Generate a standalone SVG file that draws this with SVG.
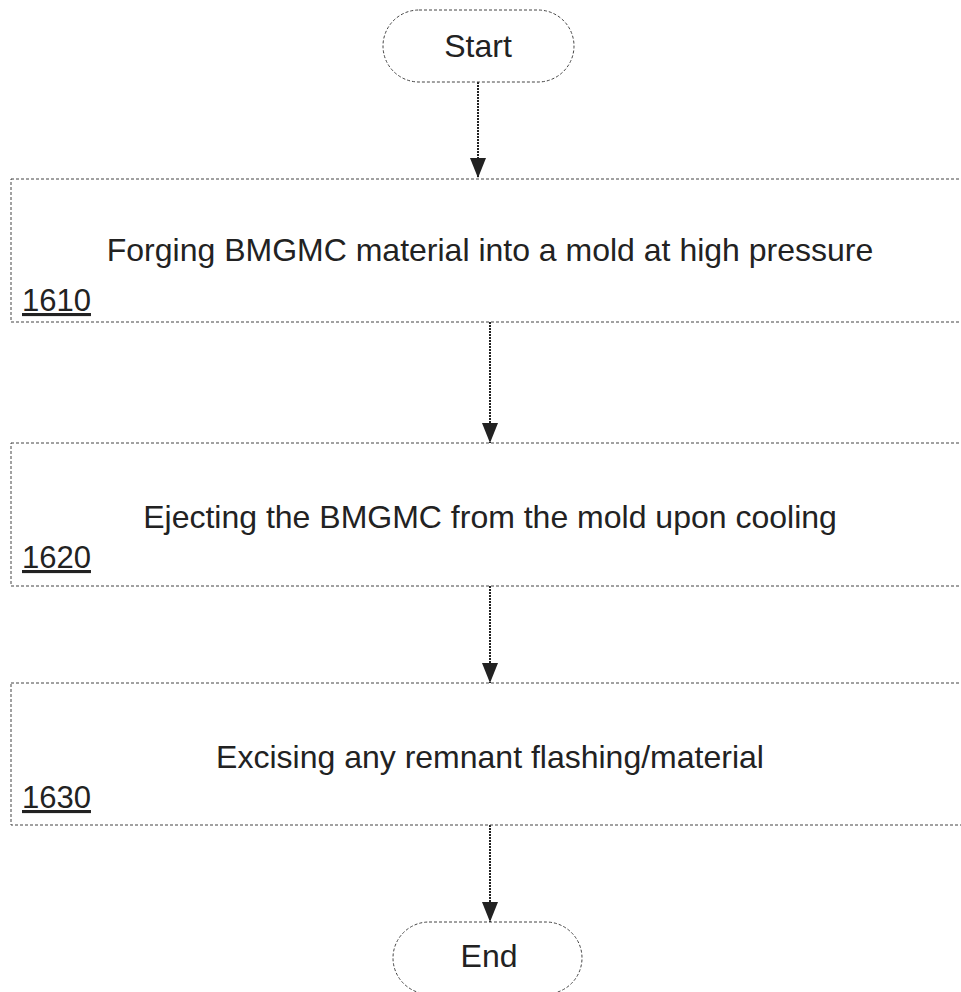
<svg xmlns="http://www.w3.org/2000/svg" width="961" height="992" viewBox="0 0 961 992">
<style>
.shape{fill:#fff;stroke:#444;stroke-width:1;stroke-dasharray:3 2}
.conn{stroke:#222;stroke-width:2;stroke-dasharray:2 1;fill:none}
.t{font-family:"Liberation Sans",Arial,sans-serif;font-size:32px;fill:#222;text-anchor:middle}
.n{font-family:"Liberation Sans",Arial,sans-serif;font-size:31px;fill:#222;text-decoration:underline}
</style>
<defs>
<marker id="ah" markerWidth="20" markerHeight="16" refX="20" refY="8" orient="auto" markerUnits="userSpaceOnUse" viewBox="0 0 20 16">
<path d="M0,0 L20,8 L0,16 Z" fill="#222"/>
</marker>
</defs>
<rect width="961" height="992" fill="#fff"/>
<g id="connectors">
<line class="conn" x1="478" y1="82" x2="478" y2="178" marker-end="url(#ah)"/>
<line class="conn" x1="490" y1="322" x2="490" y2="443" marker-end="url(#ah)"/>
<line class="conn" x1="490" y1="586" x2="490" y2="683" marker-end="url(#ah)"/>
<line class="conn" x1="490" y1="825" x2="490" y2="922" marker-end="url(#ah)"/>
</g>
<g id="start">
<rect class="shape" x="383" y="10" width="191" height="72" rx="36" ry="36"/>
<text class="t" x="478" y="57">Start</text>
</g>
<g id="step1610">
<rect class="shape" x="11" y="179" width="960" height="143"/>
<text class="t" x="490" y="261">Forging BMGMC material into a mold at high pressure</text>
<text class="n" x="22" y="311">1610</text>
</g>
<g id="step1620">
<rect class="shape" x="11" y="443" width="960" height="143"/>
<text class="t" x="490" y="528">Ejecting the BMGMC from the mold upon cooling</text>
<text class="n" x="22" y="568">1620</text>
</g>
<g id="step1630">
<rect class="shape" x="11" y="683" width="960" height="142"/>
<text class="t" x="490" y="768">Excising any remnant flashing/material</text>
<text class="n" x="22" y="808">1630</text>
</g>
<g id="end">
<rect class="shape" x="393" y="922" width="189" height="72" rx="36" ry="36"/>
<text class="t" x="489" y="967">End</text>
</g>
</svg>
